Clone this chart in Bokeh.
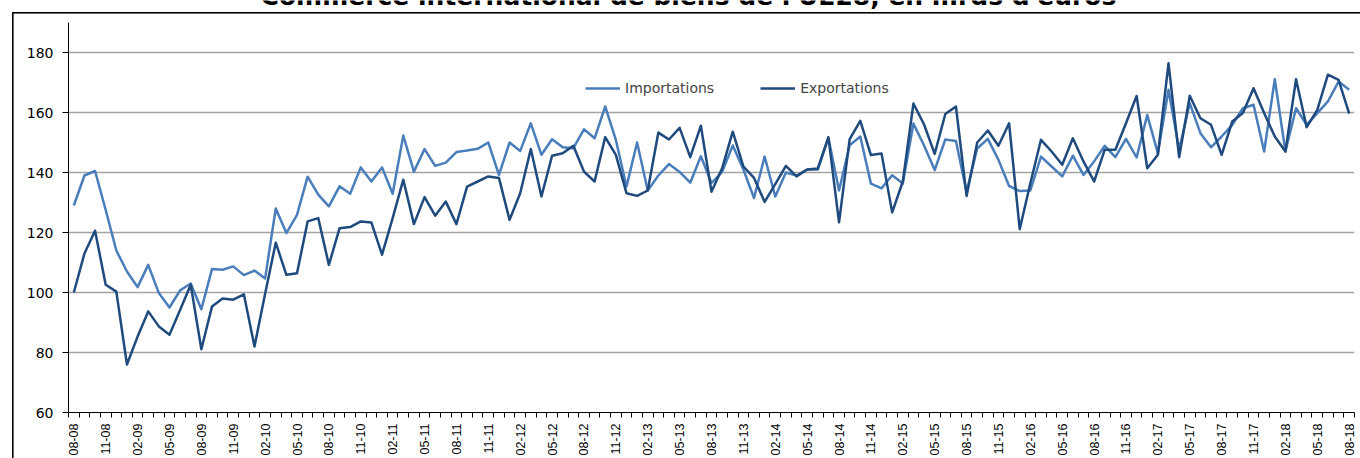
import math
from bokeh.plotting import figure
from bokeh.models import (Range1d, FixedTicker, Legend, LegendItem, Label,
                          CustomJSTickFormatter)
from bokeh.embed import file_html
from bokeh.resources import INLINE

TITLE = "Commerce international de biens de l'UE28, en mrds d'euros"
SERIES_NAMES = ["Importations", "Exportations"]
START_YEAR, START_MONTH = 2008, 8
Y_TICKS = [60, 80, 100, 120, 140, 160, 180]
Y_AXIS_MAX = 190

importations = [
    129, 139, 140.5, 127.5, 114, 107, 101.8, 109.2, 99.8, 95,
    100.7, 103, 94.4, 107.8, 107.6, 108.7, 105.8, 107.3, 104.7, 128,
    119.8, 125.9, 138.6, 132.6, 128.7, 135.4, 132.9, 141.7, 137, 141.7,
    132.9, 152.3, 140.3, 147.8, 142.2, 143.3, 146.8, 147.3, 147.9, 150,
    139.2, 150, 147.2, 156.4, 145.9, 151.1, 148.4, 148.1, 154.4, 151.4,
    162, 150.9, 135.3, 150, 134, 139, 142.8, 140.2, 136.6, 145.4,
    136.5, 140.2, 149, 141, 131.5, 145.3, 132, 140, 139, 141,
    141, 151.5, 134, 149.1, 152, 136.3, 134.7, 139.1, 136.3, 156.3,
    149, 140.8, 151, 150.5, 133.5, 148, 151.2, 144.2, 135.5, 133.8,
    134, 145.3, 142, 138.7, 145.6, 139.2, 143.7, 148.9, 145.1, 151.2,
    145, 159.2, 146.4, 167.6, 147.6, 163.1, 153.1, 148.4, 152, 155.9,
    161.4, 162.6, 147, 171.1, 147, 161.4, 155.9, 159.8, 163.7, 170.3,
    167.6,
]

exportations = [
    100, 113, 120.6, 102.6, 100.3, 76, 85.3, 93.7, 88.7, 85.9,
    94.2, 102.6, 81.1, 95.3, 98, 97.6, 99.4, 82, 99.6, 116.6,
    105.9, 106.4, 123.7, 124.8, 109.2, 121.4, 121.8, 123.7, 123.3, 112.6,
    124.8, 137.6, 122.8, 131.8, 125.6, 130.3, 122.8, 135.3, 137, 138.7,
    138.2, 124.2, 133.1, 147.8, 132, 145.6, 146.4, 148.9, 140.3, 137,
    151.8, 145.9, 133.1, 132.2, 134, 153.3, 151, 154.9, 145.1, 155.6,
    133.6, 141.4, 153.6, 142, 138.2, 130.2, 136.1, 142.2, 138.7, 141,
    141.3, 151.8, 123.4, 151.1, 157.2, 145.8, 146.3, 126.7, 137, 163,
    156, 146.2, 159.5, 162, 132.2, 150, 154, 148.9, 156.4, 121.1,
    136.4, 150.9, 147, 142.6, 151.4, 143.7, 137, 147.6, 147.6, 156.4,
    165.5, 141.4, 145.9, 176.4, 145.1, 165.6, 158.1, 155.9, 145.9, 157,
    159.8, 168.1, 159.8, 152, 147, 171.1, 155.1, 160.9, 172.6, 170.9,
    159.6,
]

months = []
for k in range(len(importations)):
    mm = (START_MONTH - 1 + k) % 12 + 1
    yy = START_YEAR + (START_MONTH - 1 + k) // 12
    months.append(f"{mm:02d}-{yy % 100:02d}")
xs = list(range(len(months)))

W, H = 1360, 458
LEFT, RIGHT, TOP, BOTTOM = 68, 6, 0, 46
FRAME_H = H - TOP - BOTTOM
PX_PER_UNIT = 3.0  # 20 units = 60 px, as in the source
y_top = Y_TICKS[0] + FRAME_H / PX_PER_UNIT  # frame reaches the top edge

p = figure(width=W, height=H, output_backend="svg", toolbar_location=None,
           x_range=Range1d(-0.5, len(months) - 0.5),
           y_range=Range1d(Y_TICKS[0], y_top),
           min_border_left=LEFT, min_border_right=RIGHT, min_border_top=TOP,
           min_border_bottom=BOTTOM)
p.outline_line_color = None
p.background_fill_color = None
p.border_fill_color = None
# chart-area border lines (top and left) drawn by the page behind the canvas
p.styles = {
    "background-color": "white",
    "background-image": "linear-gradient(#000, #000), linear-gradient(#000, #000)",
    "background-position": "12px 12px, 12px 12px",
    "background-size": "100% 1.6px, 1.6px 100%",
    "background-repeat": "no-repeat",
}

r_imp = p.line(xs, importations, line_color="#4A7EBB", line_width=2.5,
               line_join="round")
r_exp = p.line(xs, exportations, line_color="#1F4A7E", line_width=2.5,
               line_join="round")

# x axis: labels every 3 months at month centres, tick marks at month boundaries
xa = p.xaxis[0]
xa.ticker = FixedTicker(ticks=xs[::3],
                        minor_ticks=[i - 0.5 for i in range(len(months) + 1)])
xa.formatter = CustomJSTickFormatter(args=dict(labels=months),
                                     code="const v = labels[Math.round(tick)]; return v == null ? '' : v;")
xa.major_tick_out = 0
xa.major_tick_in = 0
xa.minor_tick_out = 5
xa.minor_tick_in = 0
xa.minor_tick_line_color = "black"
xa.axis_line_color = "black"
xa.major_label_orientation = math.pi / 2
xa.major_label_standoff = 6
xa.major_label_text_font = "Liberation Sans"
xa.major_label_text_font_size = "12.5px"
xa.major_label_text_color = "black"

ya = p.yaxis[0]
ya.ticker = FixedTicker(ticks=Y_TICKS)
ya.bounds = (Y_TICKS[0], Y_AXIS_MAX)
ya.major_tick_out = 6
ya.major_tick_in = 0
ya.minor_tick_line_color = None
ya.axis_line_color = "black"
ya.major_label_standoff = 9
ya.major_label_text_font = "DejaVu Sans"
ya.major_label_text_font_size = "14px"
ya.major_label_text_color = "black"

p.xgrid.visible = False
p.ygrid.ticker = FixedTicker(ticks=Y_TICKS[1:])
p.ygrid.grid_line_color = "#A3A3A3"
p.ygrid.grid_line_width = 1.3

legend = Legend(items=[LegendItem(label=SERIES_NAMES[0], renderers=[r_imp]),
                       LegendItem(label=SERIES_NAMES[1], renderers=[r_exp])],
                orientation="horizontal", location=(517, 316),
                glyph_width=35, glyph_height=14, label_standoff=5, spacing=46,
                padding=0, margin=0, border_line_color=None,
                background_fill_alpha=0, label_text_font="DejaVu Sans",
                label_text_font_size="14px")
p.add_layout(legend)

# title, cut at the top edge as in the source picture
p.add_layout(Label(x=620, y=FRAME_H + 4, x_units="screen", y_units="screen",
                   text=TITLE, text_align="center", text_baseline="alphabetic",
                   text_font="DejaVu Sans", text_font_style="bold",
                   text_font_size="25px", text_color="black"))

open("out.html", "w").write(file_html(p, INLINE))
